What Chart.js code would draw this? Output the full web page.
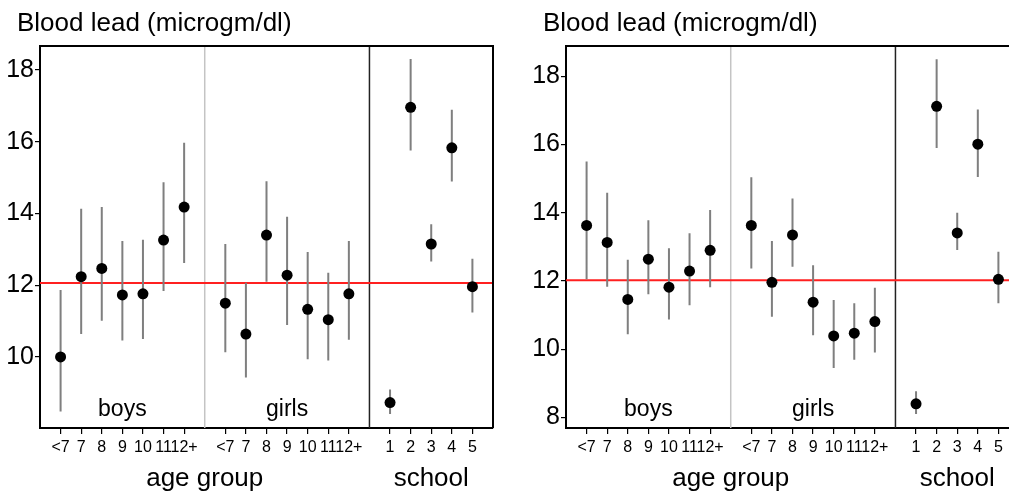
<!DOCTYPE html>
<html>
<head>
<meta charset="utf-8">
<script src="https://cdn.jsdelivr.net/npm/chart.js@4/dist/chart.umd.min.js"></script>
<style>
html,body{margin:0;padding:0;background:#fff;width:1009px;height:498px;overflow:hidden;}
#wrapA{position:absolute;left:0;top:0;width:500px;height:498px;}
#wrapB{position:absolute;left:500px;top:0;width:526px;height:498px;}
</style>
</head>
<body>
<div id="wrapA"><canvas id="cA" width="500" height="498"></canvas></div>
<div id="wrapB"><canvas id="cB" width="526" height="498"></canvas></div>
<script>
// ---- categories / tick labels ----
const ageLabels = ['<7','7','8','9','10','11','12+'];
const schoolLabels = ['1','2','3','4','5'];
const titleText = 'Blood lead (microgm/dl)';
const yTicksA = [10, 12, 14, 16, 18];
const yTicksB = [8, 10, 12, 14, 16, 18];

// ---- left panel values ----
const boysMeanA = [10.0, 12.24, 12.47, 11.73, 11.76, 13.26, 14.18];
const boysLoA   = [8.48, 10.64, 11.01, 10.46, 10.50, 11.84, 12.62];
const boysHiA   = [11.87, 14.13, 14.18, 13.23, 13.27, 14.87, 15.97];
const girlsMeanA = [11.50, 10.64, 13.40, 12.28, 11.33, 11.04, 11.76];
const girlsLoA   = [10.13, 9.43, 12.10, 10.89, 9.94, 9.90, 10.48];
const girlsHiA   = [13.15, 12.07, 14.90, 13.91, 12.93, 12.35, 13.23];
const schoolMeanA = [8.73, 16.96, 13.15, 15.83, 11.96];
const schoolLoA   = [8.41, 15.76, 12.66, 14.89, 11.24];
const schoolHiA   = [9.09, 18.31, 13.70, 16.89, 12.74];
const refLineA = 12.06;

// ---- right panel values ----
const boysMeanB = [13.63, 13.13, 11.46, 12.64, 11.82, 12.29, 12.90];
const boysLoB   = [12.05, 11.83, 10.44, 11.61, 10.87, 11.29, 11.82];
const boysHiB   = [15.50, 14.59, 12.62, 13.78, 12.96, 13.40, 14.08];
const girlsMeanB = [13.63, 11.96, 13.35, 11.38, 10.39, 10.47, 10.81];
const girlsLoB   = [12.37, 10.95, 12.42, 10.41, 9.45, 9.69, 9.90];
const girlsHiB   = [15.04, 13.17, 14.42, 12.46, 11.44, 11.35, 11.80];
const schoolMeanB = [8.40, 17.12, 13.41, 16.01, 12.05];
const schoolLoB   = [8.10, 15.90, 12.91, 15.05, 11.35];
const schoolHiB   = [8.77, 18.50, 14.00, 17.03, 12.86];
const refLineB = 12.02;

// slot offsets along the x axis
const boysStart = 1, girlsStart = 9, schoolStart = 17, sepGray = 8, sepBlack = 16, xMax = 22;

const FONT = "'Liberation Sans', Arial, sans-serif";

function makeChart(id, d) {
  const xs = [], labels = {};
  const means = [], bars = [];
  function add(start, labs, mean, lo, hi) {
    labs.forEach((l, i) => {
      const x = start + i;
      xs.push(x); labels[x] = l;
      means.push({x: x, y: mean[i]});
      bars.push({x: x, y: lo[i]}, {x: x, y: hi[i]}, {x: x, y: null});
    });
  }
  add(boysStart, ageLabels, d.boysMean, d.boysLo, d.boysHi);
  add(girlsStart, ageLabels, d.girlsMean, d.girlsLo, d.girlsHi);
  add(schoolStart, schoolLabels, d.schoolMean, d.schoolLo, d.schoolHi);

  const annot = {
    id: 'annot',
    afterDraw(chart) {
      const {ctx, chartArea: a, scales: {x}} = chart;
      ctx.save();
      ctx.strokeStyle = '#000'; ctx.lineWidth = 2;
      ctx.beginPath();
      ctx.moveTo(a.left, a.top); ctx.lineTo(a.right, a.top); ctx.lineTo(a.right, a.bottom);
      ctx.stroke();
      ctx.fillStyle = '#000';
      ctx.font = '26px ' + FONT;
      ctx.textAlign = 'left'; ctx.textBaseline = 'alphabetic';
      ctx.fillText(titleText, a.left - 23, 31);
      ctx.textAlign = 'center';
      ctx.fillText('age group', x.getPixelForValue(sepGray), 486);
      ctx.fillText('school', x.getPixelForValue((schoolStart + schoolStart + schoolLabels.length - 1) / 2), 486);
      ctx.font = '23px ' + FONT;
      ctx.fillText('boys', x.getPixelForValue(boysStart + 3), 416);
      ctx.fillText('girls', x.getPixelForValue(girlsStart + 3), 416);
      ctx.restore();
    }
  };

  return new Chart(document.getElementById(id), {
    type: 'scatter',
    data: {
      datasets: [
        {data: means, pointRadius: 5.5, pointBackgroundColor: '#000', pointBorderColor: '#000', pointBorderWidth: 0, order: 0},
        {data: bars, showLine: true, spanGaps: false, pointRadius: 0, borderColor: '#7f7f7f', borderWidth: 2, order: 1},
        {data: [{x: 0, y: d.ref}, {x: xMax, y: d.ref}], showLine: true, pointRadius: 0, borderColor: '#ff2020', borderWidth: 2, order: 2},
        {data: [{x: sepGray, y: d.yMin}, {x: sepGray, y: d.yMax}], showLine: true, pointRadius: 0, borderColor: '#c4c4c4', borderWidth: 1.5, order: 3},
        {data: [{x: sepBlack, y: d.yMin}, {x: sepBlack, y: d.yMax}], showLine: true, pointRadius: 0, borderColor: '#222', borderWidth: 1.5, order: 3}
      ]
    },
    options: {
      responsive: false,
      animation: false,
      devicePixelRatio: 1,
      layout: {padding: {top: 46, right: 7, left: 0, bottom: 0}},
      plugins: {legend: {display: false}, tooltip: {enabled: false}, title: {display: false}},
      scales: {
        x: {
          type: 'linear', min: 0, max: xMax, offset: false,
          afterBuildTicks: s => { s.ticks = xs.map(v => ({value: v})); },
          afterFit: s => { s.height = 70; },
          ticks: {autoSkip: false, maxRotation: 0, padding: 4, color: '#000',
                  font: {family: FONT, size: 16}, callback: v => labels[v] || ''},
          grid: {drawOnChartArea: false, drawTicks: true, tickLength: 6, color: '#000', lineWidth: 1.2},
          border: {display: true, color: '#000', width: 2}
        },
        y: {
          type: 'linear', min: d.yMin, max: d.yMax,
          afterBuildTicks: s => { s.ticks = d.yTicks.map(v => ({value: v})); },
          afterFit: s => { s.width = d.yWidth; },
          ticks: {padding: 1, color: '#000', font: {family: FONT, size: 25}},
          grid: {drawOnChartArea: false, drawTicks: true, tickLength: 5, color: '#000', lineWidth: 1.2},
          border: {display: true, color: '#000', width: 2}
        }
      }
    },
    plugins: [annot]
  });
}

makeChart('cA', {
  boysMean: boysMeanA, boysLo: boysLoA, boysHi: boysHiA,
  girlsMean: girlsMeanA, girlsLo: girlsLoA, girlsHi: girlsHiA,
  schoolMean: schoolMeanA, schoolLo: schoolLoA, schoolHi: schoolHiA,
  ref: refLineA, yMin: 8.02, yMax: 18.67, yTicks: yTicksA, yWidth: 40
});
makeChart('cB', {
  boysMean: boysMeanB, boysLo: boysLoB, boysHi: boysHiB,
  girlsMean: girlsMeanB, girlsLo: girlsLoB, girlsHi: girlsHiB,
  schoolMean: schoolMeanB, schoolLo: schoolLoB, schoolHi: schoolHiB,
  ref: refLineB, yMin: 7.69, yMax: 18.89, yTicks: yTicksB, yWidth: 66
});
</script>
</body>
</html>
